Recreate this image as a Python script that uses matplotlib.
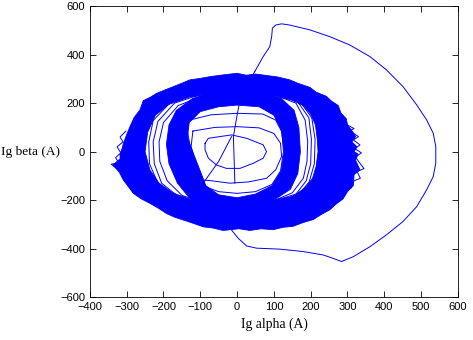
import numpy as np
import matplotlib
matplotlib.use("Agg")
import matplotlib.pyplot as plt
from matplotlib.path import Path
from matplotlib.patches import PathPatch

# ---------------- data ----------------
xticks = [-400, -300, -200, -100, 0, 100, 200, 300, 400, 500, 600]
yticks = [-600, -400, -200, 0, 200, 400, 600]

# start-up stem + large transient loop
stem = [(-6, -130), (-8, -30), (-10, 62), (0, 150), (8, 213), (25, 270), (48, 330)]
diag = [(-92, -130), (-50, -40), (-15, 62)]
big_loop = [(48, 330), (71, 392), (89, 433), (94, 474), (96, 509), (105, 522), (121, 527),
            (143, 522), (198, 502), (252, 474), (306, 440), (361, 392), (406, 337),
            (451, 268), (488, 193), (515, 131), (533, 76), (540, 21), (540, -48),
            (533, -103), (515, -158), (488, -227), (451, -288), (406, -343), (361, -392),
            (316, -433), (284, -453), (261, -440), (234, -426), (180, -412), (116, -402),
            (53, -398), (26, -389), (3, -357), (-15, -323)]

# inner spiral loops
loop1 = [(-87, 34), (-78, 55), (-47, 62), (-15, 69), (26, 55), (71, 28), (80, 0), (71, -27),
         (44, -48), (8, -69), (-29, -69), (-56, -55), (-78, -27), (-87, 7), (-87, 34)]
loop2 = [(-120, 85), (-60, 100), (0, 103), (60, 98), (100, 75), (118, 35), (121, -20),
         (105, -75), (80, -110), (30, -125), (-20, -130), (-70, -120), (-92, -117),
         (-110, -60), (-125, 20), (-120, 85)]
loop3 = [(-130, 130), (-70, 152), (0, 158), (70, 155), (105, 130), (122, 80), (126, 0),
         (118, -80), (95, -135), (50, -165), (0, -172), (-50, -165), (-95, -140),
         (-112, -70), (-128, 20), (-135, 90), (-130, 130)]

# dense outer band: outer (jagged) and inner edges
outer_band_out = [(0, 323), (25, 315), (50, 320), (80, 314), (110, 308), (143, 296), (165, 282),
                  (198, 265), (215, 245), (243, 228), (255, 210), (275, 190), (282, 160),
                  (297, 135), (300, 110), (315, 80), (322, 62), (312, 40), (326, 20), (318, 0),
                  (329, -10), (322, -35), (334, -75), (318, -95), (316, -140), (300, -165),
                  (288, -195), (270, -215), (252, -240), (230, -258), (207, -280), (180, -292),
                  (152, -308), (125, -312), (98, -322), (65, -318), (35, -325), (5, -318),
                  (-38, -325), (-65, -315), (-92, -310), (-120, -295), (-146, -282),
                  (-170, -270), (-192, -255), (-215, -232), (-237, -213), (-260, -195),
                  (-282, -172), (-295, -145), (-309, -117), (-320, -85), (-337, -55),
                  (-318, -30), (-318, -10), (-312, 15), (-309, 34), (-300, 70), (-291, 103),
                  (-280, 140), (-264, 172), (-255, 210), (-235, 225), (-219, 240), (-195, 255),
                  (-173, 268), (-150, 282), (-128, 296), (-100, 302), (-74, 309), (-40, 316)]
outer_band_in = [(0, 238), (60, 236), (110, 228), (150, 212), (180, 190), (200, 155), (213, 110),
                 (218, 50), (220, 0), (215, -60), (205, -110), (185, -150), (150, -185),
                 (100, -200), (40, -200), (-20, -205), (-80, -212), (-130, -195), (-175, -170),
                 (-212, -130), (-237, -75), (-250, 0), (-243, 80), (-222, 150), (-185, 195),
                 (-130, 225), (-70, 236)]

# jagged spikes poking out of the outer band edge
edge_spikes = [(300, 110), (318, 95), (306, 86), (330, 62), (316, 48), (334, 28), (320, 12),
               (338, -5), (322, -22), (330, -40), (345, -70), (326, -82), (335, -110),
               (318, -120), (310, -150)]
edge_spikes_left = [(-300, -100), (-318, -80), (-342, -52), (-322, -45), (-330, -25),
                    (-316, -5), (-326, 20), (-310, 40), (-318, 60), (-302, 85)]

# dense inner band: outer and inner edges
inner_band_out = [(0, 255), (70, 245), (120, 220), (155, 170), (168, 100), (172, 0), (165, -90),
                  (145, -155), (100, -200), (40, -222), (-20, -228), (-80, -220), (-130, -190),
                  (-162, -130), (-185, -50), (-192, 30), (-185, 110), (-165, 170), (-120, 220),
                  (-60, 245)]
inner_band_in = [(0, 192), (60, 185), (100, 150), (120, 90), (128, 0), (120, -80), (95, -140),
                 (50, -175), (0, -190), (-50, -178), (-85, -140), (-100, -80), (-118, -10),
                 (-135, 60), (-130, 120), (-100, 165), (-50, 185)]

# sparse orbits in the gap between the two bands
gap1 = [(0, 245), (100, 235), (160, 200), (185, 130), (192, 40), (190, -40), (180, -110),
        (150, -170), (90, -208), (0, -212), (-90, -212), (-150, -180), (-190, -120),
        (-210, -40), (-212, 40), (-200, 120), (-160, 190), (-90, 232), (0, 245)]
gap2 = [(0, 250), (100, 240), (165, 205), (195, 140), (202, 50), (200, -50), (188, -120),
        (160, -175), (95, -205), (0, -210), (-95, -210), (-160, -185), (-205, -130),
        (-225, -50), (-228, 40), (-215, 125), (-170, 200), (-95, 238), (0, 250)]
gap3 = [(0, 252), (105, 242), (170, 208), (203, 140), (212, 50), (210, -50), (196, -125),
        (165, -180), (98, -207), (0, -208), (-98, -212), (-168, -188), (-215, -130),
        (-238, -50), (-240, 40), (-228, 128), (-180, 205), (-100, 240), (0, 252)]

BLUE = "#0000ff"

# ---------------- figure ----------------
fig = plt.figure(figsize=(4.73, 3.40), dpi=100)
ax = fig.add_axes([0.190, 0.126, 0.778, 0.856])


def xy(pts):
    a = np.asarray(pts, dtype=float)
    return a[:, 0], a[:, 1]


def signed_area(pts):
    x, y = xy(pts)
    return 0.5 * np.sum(x * np.roll(y, -1) - np.roll(x, -1) * y)


def ring(outer, inner):
    o = list(outer)
    i = list(inner)
    if np.sign(signed_area(o)) == np.sign(signed_area(i)):
        i = i[::-1]
    verts = o + [o[0]] + i + [i[0]]
    codes = ([Path.MOVETO] + [Path.LINETO] * (len(o) - 1) + [Path.CLOSEPOLY] +
             [Path.MOVETO] + [Path.LINETO] * (len(i) - 1) + [Path.CLOSEPOLY])
    return PathPatch(Path(verts, codes), facecolor=BLUE, edgecolor=BLUE, linewidth=0.6)


ax.add_patch(ring(outer_band_out, outer_band_in))
ax.add_patch(ring(inner_band_out, inner_band_in))

for pts in (gap1, gap2, gap3, loop1, loop2, loop3, stem, diag, big_loop,
            edge_spikes, edge_spikes_left):
    x, y = xy(pts)
    ax.plot(x, y, color=BLUE, linewidth=0.7)

ax.set_xlim(-400, 600)
ax.set_ylim(-600, 600)
ax.set_xticks(xticks)
ax.set_yticks(yticks)
ax.tick_params(direction="in", length=4, width=0.6, top=True, right=True, labelsize=8)
ax.tick_params(axis="x", pad=3.5)
ax.tick_params(axis="y", pad=3.5)
for lab in ax.get_xticklabels() + ax.get_yticklabels():
    lab.set_family("Liberation Sans")
for s in ax.spines.values():
    s.set_linewidth(0.6)

fig.text(30 / 473, 1 - 152 / 340, "Ig beta (A)", family="Liberation Serif", fontsize=9.6,
         ha="center", va="center")
fig.text(274 / 473, 1 - 324 / 340, "Ig alpha (A)", family="Liberation Serif", fontsize=9.8,
         ha="center", va="center")

fig.savefig("out.png", dpi=100)
